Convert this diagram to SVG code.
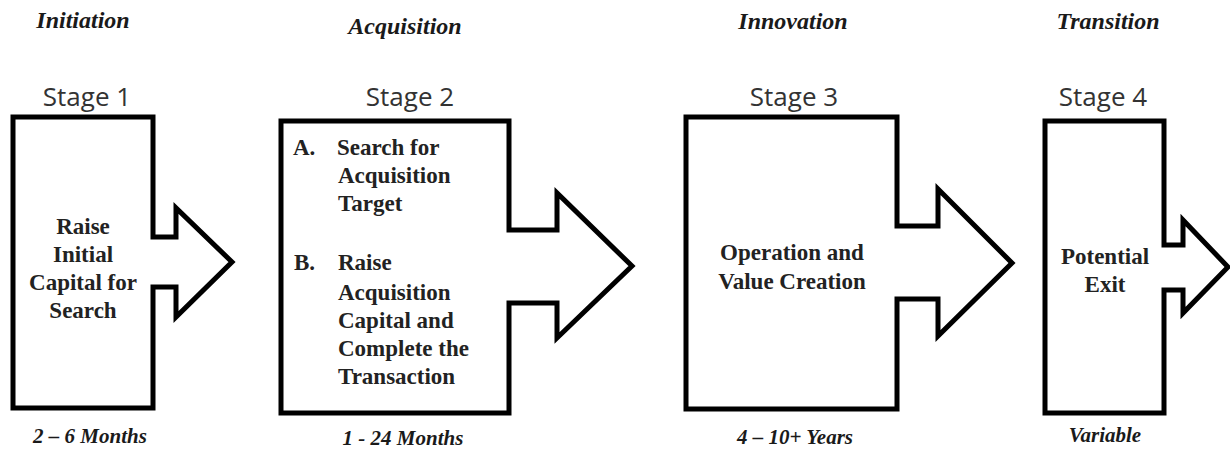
<svg xmlns="http://www.w3.org/2000/svg" width="1230" height="451" viewBox="0 0 1230 451">
<style>
.bg{fill:#ffffff}
.shape{fill:#ffffff;stroke:#000000;stroke-width:5;stroke-linejoin:miter}
.phase{font-family:"Liberation Serif",serif;font-weight:bold;font-style:italic;font-size:24px;fill:#1a1a1a;text-anchor:middle}
.stage{font-family:"Open Sans","Noto Sans",sans-serif;font-size:26px;fill:#333333;text-anchor:middle}
.body{font-family:"Liberation Serif",serif;font-weight:bold;font-size:23px;fill:#222222}
.mid{text-anchor:middle}
.dur{font-family:"Liberation Serif",serif;font-weight:bold;font-style:italic;font-size:21px;fill:#1a1a1a;text-anchor:middle}
</style>
<rect class="bg" x="0" y="0" width="1230" height="451"/>
<g id="stage1">
<text class="phase" x="83" y="28">Initiation</text>
<text class="stage" x="87" y="106">Stage 1</text>
<path class="shape" d="M13,117 H153 V237 H176 V208 L232,262 L176,317 V287 H153 V408 H13 Z"/>
<text class="body mid" x="83" y="234">Raise</text>
<text class="body mid" x="83" y="262">Initial</text>
<text class="body mid" x="83" y="290">Capital for</text>
<text class="body mid" x="83" y="318">Search</text>
<text class="dur" x="90" y="443">2 – 6 Months</text>
</g>
<g id="stage2">
<text class="phase" x="405" y="34">Acquisition</text>
<text class="stage" x="410" y="106">Stage 2</text>
<path class="shape" d="M281,121 H509 V230 H557 V193 L632,266 L557,338 V303 H509 V413 H281 Z"/>
<text class="body" x="293" y="155">A.</text>
<text class="body" x="337" y="155">Search for</text>
<text class="body" x="338" y="183">Acquisition</text>
<text class="body" x="338" y="211">Target</text>
<text class="body" x="294" y="270">B.</text>
<text class="body" x="338" y="270">Raise</text>
<text class="body" x="338" y="300">Acquisition</text>
<text class="body" x="338" y="328">Capital and</text>
<text class="body" x="338" y="356">Complete the</text>
<text class="body" x="338" y="384">Transaction</text>
<text class="dur" x="403" y="445">1 - 24 Months</text>
</g>
<g id="stage3">
<text class="phase" x="793" y="29">Innovation</text>
<text class="stage" x="794" y="106">Stage 3</text>
<path class="shape" d="M686,117 H897 V226 H938 V189 L1012,263 L938,336 V299 H897 V409 H686 Z"/>
<text class="body mid" x="792" y="260">Operation and</text>
<text class="body mid" x="792" y="289">Value Creation</text>
<text class="dur" x="795" y="444">4 – 10+ Years</text>
</g>
<g id="stage4">
<text class="phase" x="1108" y="29">Transition</text>
<text class="stage" x="1103" y="106">Stage 4</text>
<path class="shape" d="M1045,121 H1164 V245 H1183 V220 L1228,267 L1183,313 V290 H1164 V413 H1045 Z"/>
<text class="body mid" x="1105" y="264">Potential</text>
<text class="body mid" x="1105" y="292">Exit</text>
<text class="dur" x="1105" y="442">Variable</text>
</g>
</svg>
